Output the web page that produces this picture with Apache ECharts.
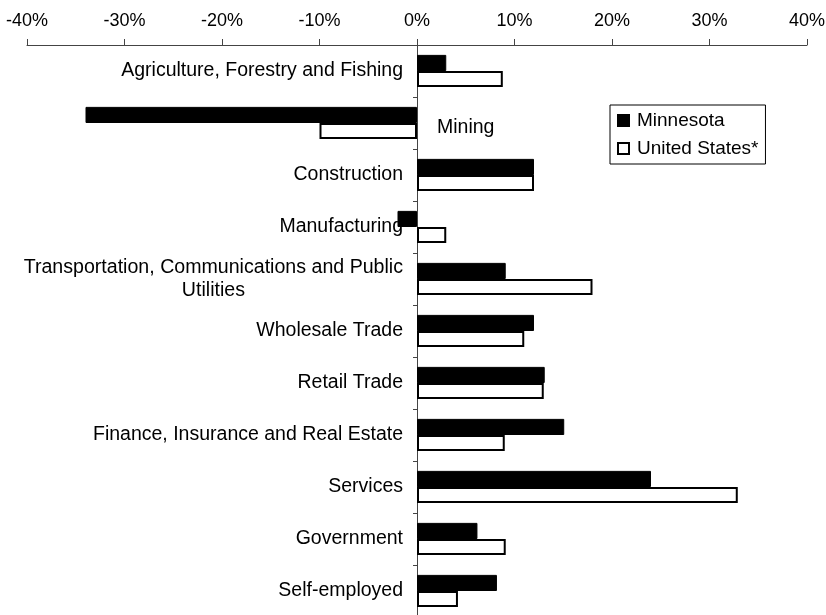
<!DOCTYPE html>
<html>
<head>
<meta charset="utf-8">
<script src="https://cdn.jsdelivr.net/npm/echarts@6/dist/echarts.min.js"></script>
<style>
html,body{margin:0;padding:0;background:#fff;}
#chart{width:826px;height:615px;}
</style>
</head>
<body>
<div id="chart"></div>
<script>
const categories = [
  'Agriculture, Forestry and Fishing',
  'Mining',
  'Construction',
  'Manufacturing',
  'Transportation, Communications and Public Utilities',
  'Wholesale Trade',
  'Retail Trade',
  'Finance, Insurance and Real Estate',
  'Services',
  'Government',
  'Self-employed'
];
const minnesota = [3.0, -34.0, 12.0, -2.0, 9.1, 12.0, 13.1, 15.1, 24.0, 6.2, 8.2];
const unitedStates = [8.8, -10.0, 12.0, 3.0, 18.0, 11.0, 13.0, 9.0, 32.9, 9.1, 4.2];
const seriesNames = ['Minnesota', 'United States*'];
const xTicks = { min: -40, max: 40, interval: 10 };

const FONT = '"Liberation Sans", Arial, sans-serif';

const yData = categories.map(function (c) {
  if (c === 'Mining') {
    return { value: c, textStyle: { align: 'left' } };
  }
  return c;
});

const chart = echarts.init(document.getElementById('chart'), null, { renderer: 'canvas' });
chart.setOption({
  backgroundColor: '#fff',
  animation: false,
  grid: { left: 27, right: 19, top: 45, bottom: -2, containLabel: false, outerBoundsMode: 'none' },
  legend: {
    orient: 'vertical',
    left: 610,
    top: 105,
    padding: [6, 7, 6, 7],
    itemGap: 9,
    itemWidth: 11,
    itemHeight: 11,
    borderColor: '#000',
    borderWidth: 1,
    backgroundColor: '#fff',
    textStyle: { fontFamily: FONT, fontSize: 19, color: '#000', padding: [0, 0, 0, 3] },
    data: [
      { name: seriesNames[0], icon: 'rect' },
      { name: seriesNames[1], icon: 'rect' }
    ]
  },
  xAxis: {
    type: 'value',
    position: 'top',
    min: xTicks.min,
    max: xTicks.max,
    interval: xTicks.interval,
    axisLine: { show: true, lineStyle: { color: '#444', width: 1 } },
    axisTick: { show: true, length: 6, lineStyle: { color: '#444' } },
    splitLine: { show: false },
    axisLabel: {
      formatter: '{value}%',
      fontFamily: FONT,
      fontSize: 18,
      color: '#000',
      margin: 15
    }
  },
  yAxis: {
    type: 'category',
    inverse: true,
    data: yData,
    offset: -390,
    axisLine: { show: true, onZero: false, lineStyle: { color: '#444', width: 1 } },
    axisTick: { show: true, length: 4, lineStyle: { color: '#444' } },
    axisLabel: {
      fontFamily: FONT,
      fontSize: 19.5,
      color: '#000',
      margin: 14,
      interval: 0,
      formatter: function (v) {
        if (v.indexOf('Transportation') === 0) {
          return '{a|Transportation, Communications and Public}\n{b|Utilities}';
        }
        if (v === 'Mining') {
          return '{m|Mining}';
        }
        return v;
      },
      rich: {
        a: { fontFamily: FONT, fontSize: 19.6, color: '#000', lineHeight: 23 },
        b: { fontFamily: FONT, fontSize: 19.6, color: '#000', lineHeight: 23, padding: [0, 158, 0, 0] },
        m: { fontFamily: FONT, fontSize: 19.5, color: '#000', padding: [10, 0, 0, 34] }
      }
    }
  },
  series: [
    {
      name: seriesNames[0],
      type: 'bar',
      data: minnesota,
      barGap: '0%',
      barCategoryGap: '38%',
      itemStyle: { color: '#000', borderColor: '#000', borderWidth: 1 }
    },
    {
      name: seriesNames[1],
      type: 'bar',
      data: unitedStates,
      barGap: '0%',
      barCategoryGap: '38%',
      itemStyle: { color: '#fff', borderColor: '#000', borderWidth: 2 }
    }
  ]
});
</script>
</body>
</html>
